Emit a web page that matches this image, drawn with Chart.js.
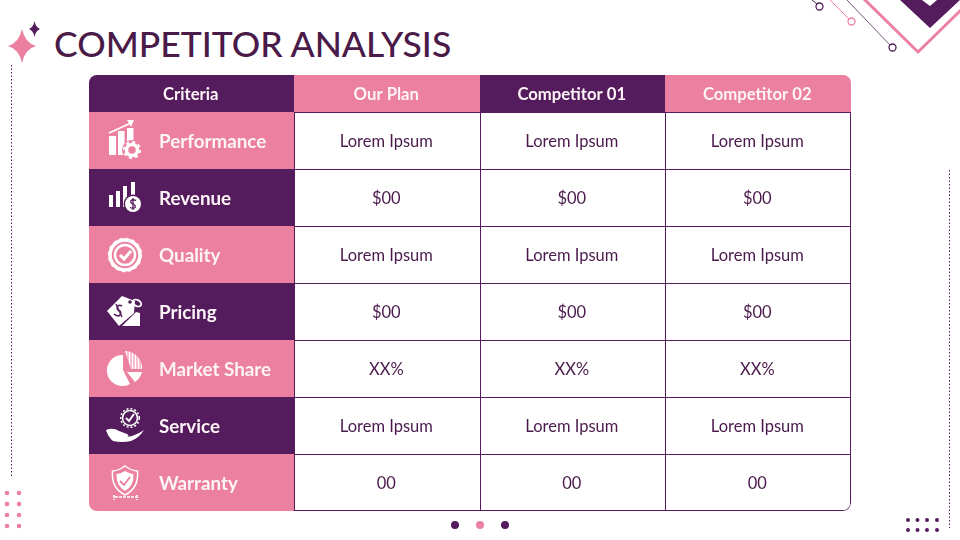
<!DOCTYPE html>
<html>
<head>
<meta charset="utf-8">
<title>Competitor Analysis</title>
<script src="https://cdn.jsdelivr.net/npm/chart.js@4"></script>
<style>
  html, body { margin: 0; padding: 0; background: #fff; }
  #page { position: relative; width: 960px; height: 540px; overflow: hidden; }
  canvas { position: absolute; left: 89px; }
  #headerChart { top: 75px; }
  #bodyChart { top: 112px; }
  #art { position: absolute; left: 0; top: 0; pointer-events: none; }
  h1 { position: absolute; left: 54px; top: 22px; margin: 0; font: 500 35.500px Lato, sans-serif; color: #4a1a48; white-space: nowrap; }
</style>
</head>
<body>
<div id="page">
  <h1>COMPETITOR ANALYSIS</h1>
  <canvas id="headerChart" width="762" height="37"></canvas>
  <canvas id="bodyChart" width="762" height="399"></canvas>
  <svg id="art" width="960" height="540" viewBox="0 0 960 540">
    <!-- corner decoration -->
    <path d="M22 29 Q25 43 36 46 Q25 49 22 63 Q19 49 8 46 Q19 43 22 29Z" fill="#ec80a0"/>
    <path d="M34.500 21 Q35.500 27 40 29 Q35.500 31 34.500 37 Q33.500 31 29 29 Q33.500 27 34.500 21Z" fill="#541c5c"/>
    <path d="M900 0 L930 28 L960 0 L937 0 L930 6 L922 0Z" fill="#541c5c"/>
    <path d="M863 -2 L918 52 L961 10" fill="none" stroke="#ec80a0" stroke-width="3"/>
    <path d="M830 0 L849 19" stroke="#ec80a0" stroke-width="1"/>
    <circle cx="851.500" cy="21.500" r="3.500" fill="#fff" stroke="#ec80a0" stroke-width="1.300"/>
    <path d="M847 0 L890 45" stroke="#7d4f85" stroke-width="1"/>
    <circle cx="892.500" cy="47.500" r="3.500" fill="#fff" stroke="#541c5c" stroke-width="1.300"/>
    <path d="M812 0 L817 4" stroke="#541c5c" stroke-width="1"/>
    <circle cx="819.500" cy="6.500" r="3.500" fill="#fff" stroke="#541c5c" stroke-width="1.300"/>
    <path d="M11.500 65 V476" stroke="#541c5c" stroke-width="1" stroke-dasharray="1.500 2"/>
    <path d="M949.500 170 V528" stroke="#541c5c" stroke-width="1" stroke-dasharray="1.500 2"/>
    <g fill="#ec80a0">
      <circle cx="7" cy="493" r="2.300"/><circle cx="19" cy="493" r="2.300"/>
      <circle cx="7" cy="504" r="2.300"/><circle cx="19" cy="504" r="2.300"/>
      <circle cx="7" cy="515" r="2.300"/><circle cx="19" cy="515" r="2.300"/>
      <circle cx="7" cy="526" r="2.300"/><circle cx="19" cy="526" r="2.300"/>
    </g>
    <g fill="#541c5c">
      <circle cx="908" cy="520" r="2"/><circle cx="917.500" cy="520" r="2"/><circle cx="927" cy="520" r="2"/><circle cx="937" cy="520" r="2"/>
      <circle cx="908" cy="530" r="2"/><circle cx="917.500" cy="530" r="2"/><circle cx="927" cy="530" r="2"/><circle cx="937" cy="530" r="2"/>
    </g>
    <circle cx="455" cy="525" r="4" fill="#541c5c"/>
    <circle cx="480" cy="525" r="4" fill="#ec80a0"/>
    <circle cx="505" cy="525" r="4" fill="#541c5c"/>

    <!-- performance -->
    <g fill="#fff">
      <rect x="109" y="136" width="7" height="19"/>
      <rect x="118" y="131" width="6.500" height="24"/>
      <rect x="127" y="128" width="6.500" height="16"/>
      <path d="M109 133 L131 123" stroke="#fff" stroke-width="1.500" fill="none"/>
      <path d="M127 120 L134 120 L131 127Z"/>
      <circle cx="132" cy="150" r="10" fill="#ec80a0"/>
      <circle cx="132" cy="150" r="5.500" fill="none" stroke="#fff" stroke-width="3.500"/>
      <circle cx="132" cy="150" r="7.800" fill="none" stroke="#fff" stroke-width="2.500" stroke-dasharray="3 3.120"/>
    </g>
    <!-- revenue -->
    <g fill="#fff">
      <rect x="109" y="195" width="4" height="12"/>
      <rect x="116" y="191" width="4" height="16"/>
      <rect x="123" y="186" width="4" height="21"/>
      <rect x="131" y="182" width="4" height="17"/>
      <circle cx="133" cy="204" r="9.500" fill="#541c5c"/>
      <circle cx="133" cy="204" r="8"/>
      <path d="M136 200.500 Q133 199 131 200.500 Q130 203 133 204 Q136 205 135 207.500 Q133 209 130 207.500 M133 198 V210" fill="none" stroke="#541c5c" stroke-width="1.300"/>
    </g>
    <!-- quality -->
    <g fill="none" stroke="#fff">
      <circle cx="125" cy="255" r="15" stroke-width="3.500"/>
      <circle cx="125" cy="255" r="16.300" stroke-width="1.800" stroke-dasharray="3 3.400"/>
      <circle cx="125" cy="255" r="10" stroke-width="2.500"/>
      <path d="M120 255 L124 259 L131 251" stroke-width="3"/>
    </g>
    <!-- pricing -->
    <g fill="#fff">
      <path d="M107 311 L122 296 L135 301 L134 313 L119 326Z"/>
      <path d="M122 326 L136 312 L140 313 L140 326Z"/>
      <ellipse cx="137" cy="303" rx="4.500" ry="3" fill="none" stroke="#fff" stroke-width="1.800" transform="rotate(30 137 303)"/>
      <circle cx="130" cy="302" r="1.800" fill="#541c5c"/>
      <path d="M122 306 Q118 304 117 308 Q118 311 120 311 Q122 313 119 316 Q116 316 114 314 M116 304 L122 317" fill="none" stroke="#541c5c" stroke-width="1.500"/>
    </g>
    <!-- market share -->
    <g fill="#fff">
      <path d="M123 355 A15.500 15.500 0 1 0 130 384 L123 370Z"/>
      <path d="M125 351 A17 17 0 0 1 142 369 L131 369Z"/>
      <path d="M128 351 V369 M131 352 V369 M134 353 V369 M137 355 V369 M140 358 V369" stroke="#ec80a0" stroke-width="1"/>
      <path d="M127 372 L142 372 A17 17 0 0 1 135 382Z"/>
    </g>
    <!-- service -->
    <g>
      <circle cx="130" cy="418" r="7.500" fill="none" stroke="#fff" stroke-width="1.600"/>
      <circle cx="130" cy="418" r="9.300" fill="none" stroke="#fff" stroke-width="1.500" stroke-dasharray="2 2"/>
      <path d="M126 418 L129 421 L134 414" fill="none" stroke="#fff" stroke-width="2"/>
      <path d="M106 430 Q113 427 119 431 L127 434 Q130 436 127 437 L132 436 Q140 433 144 430 Q139 438 131 441 Q122 443 113 441 Q108 437 106 430Z" fill="#fff"/>
    </g>
    <!-- warranty -->
    <g>
      <path d="M125 466 Q118 471 112.500 471 Q111 488 125 495 Q139 488 137.500 471 Q132 471 125 466Z" fill="none" stroke="#fff" stroke-width="1.500"/>
      <path d="M125 471 Q120 474 116.500 474 Q116 486 125 491 Q134 486 133.500 474 Q130 474 125 471Z" fill="#fff"/>
      <path d="M120 481 L124 485 L130 477" fill="none" stroke="#ec80a0" stroke-width="1.800"/>
      <path d="M115 497 H136 M114 495 V500 M137 495 V500" fill="none" stroke="#fff" stroke-width="1.600" stroke-dasharray="3 1"/>
    </g>
  </svg>
</div>
<script>
const PURPLE = '#541c5c';
const PINK = '#ec80a0';
const INK = '#4a1a4c';
const LIGHT = '#fdf4f7';

const headers = ['Criteria', 'Our Plan', 'Competitor 01', 'Competitor 02'];
const columnWidths = [205, 186, 185, 186];
const criteria = ['Performance', 'Revenue', 'Quality', 'Pricing', 'Market Share', 'Service', 'Warranty'];
const ourPlan = ['Lorem Ipsum', '$00', 'Lorem Ipsum', '$00', 'XX%', 'Lorem Ipsum', '00'];
const competitor01 = ['Lorem Ipsum', '$00', 'Lorem Ipsum', '$00', 'XX%', 'Lorem Ipsum', '00'];
const competitor02 = ['Lorem Ipsum', '$00', 'Lorem Ipsum', '$00', 'XX%', 'Lorem Ipsum', '00'];
const cellColumns = [criteria, ourPlan, competitor01, competitor02];

// writes each dataset's cellText on top of its bars
const cellTextPlugin = {
  id: 'cellText',
  afterDatasetsDraw(chart) {
    const ctx = chart.ctx;
    ctx.save();
    ctx.textBaseline = 'middle';
    chart.data.datasets.forEach((ds, d) => {
      chart.getDatasetMeta(d).data.forEach((bar, i) => {
        const p = bar.getProps(['x', 'y', 'base'], true);
        const style = ds.textStyle;
        ctx.font = style.font;
        ctx.fillStyle = style.color;
        ctx.textAlign = style.align;
        const x = style.align === 'left' ? p.base + style.inset : (p.base + p.x) / 2 - 0.7;
        ctx.fillText(ds.cellText[i], x, p.y + style.shift);
      });
    });
    ctx.restore();
  }
};

function baseOptions() {
  return {
    indexAxis: 'y',
    responsive: false,
    animation: false,
    devicePixelRatio: window.devicePixelRatio,
    layout: { padding: 0 },
    plugins: { legend: { display: false }, tooltip: { enabled: false } },
    scales: {
      x: { stacked: true, display: false, min: 0, max: 762 },
      y: { stacked: true, display: false }
    }
  };
}

const headerFont = { font: 'bold 16.700px Lato, sans-serif', color: LIGHT, align: 'center', shift: 1 };

new Chart(document.getElementById('headerChart'), {
  type: 'bar',
  plugins: [cellTextPlugin],
  data: {
    labels: ['Header'],
    datasets: headers.map((h, c) => ({
      label: h,
      data: [columnWidths[c]],
      cellText: [h],
      textStyle: headerFont,
      backgroundColor: c % 2 === 0 ? PURPLE : PINK,
      barPercentage: 1,
      categoryPercentage: 1,
      borderWidth: 0,
      borderSkipped: false,
      inflateAmount: 0,
      borderRadius: {
        topLeft: c === 0 ? 8 : 0, topRight: c === 3 ? 8 : 0, bottomLeft: 0, bottomRight: 0
      }
    }))
  },
  options: baseOptions()
});

new Chart(document.getElementById('bodyChart'), {
  type: 'bar',
  plugins: [cellTextPlugin],
  data: {
    labels: criteria,
    datasets: cellColumns.map((col, c) => ({
      label: headers[c],
      data: col.map(() => columnWidths[c]),
      cellText: col,
      textStyle: c === 0
        ? { font: 'bold 18.800px Lato, sans-serif', color: LIGHT, align: 'left', inset: 70, shift: 1 }
        : { font: '16.500px Lato, sans-serif', color: INK, align: 'center', shift: 1 },
      backgroundColor: ctx => c > 0 ? '#fff' : (ctx.dataIndex % 2 === 0 ? PINK : PURPLE),
      borderColor: PURPLE,
      barPercentage: 1,
      categoryPercentage: 1,
      borderSkipped: false,
      inflateAmount: 0,
      borderWidth: ctx => c === 0 ? 0 : {
        top: 1,
        left: 1,
        right: c === 3 ? 1 : 0,
        bottom: ctx.dataIndex === col.length - 1 ? 1 : 0
      },
      borderRadius: ctx => ({
        topLeft: 0,
        topRight: 0,
        bottomLeft: c === 0 && ctx.dataIndex === col.length - 1 ? 8 : 0,
        bottomRight: c === 3 && ctx.dataIndex === col.length - 1 ? 8 : 0
      })
    }))
  },
  options: baseOptions()
});
</script>
</body>
</html>
